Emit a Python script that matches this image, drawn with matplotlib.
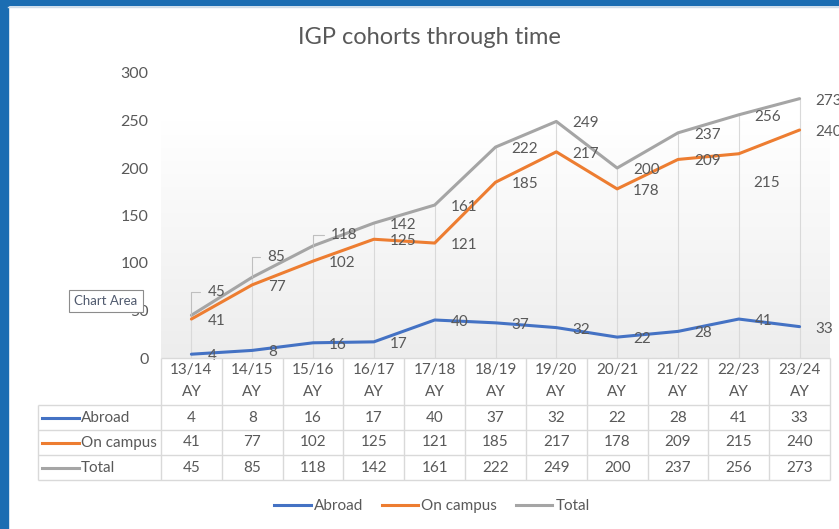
import numpy as np
import matplotlib
matplotlib.use("Agg")
import matplotlib.pyplot as plt
from matplotlib.colors import LinearSegmentedColormap
from matplotlib.lines import Line2D
from matplotlib.patches import Rectangle

# data
years = ["13/14", "14/15", "15/16", "16/17", "17/18", "18/19",
         "19/20", "20/21", "21/22", "22/23", "23/24"]
abroad = [4, 8, 16, 17, 40, 37, 32, 22, 28, 41, 33]
on_campus = [41, 77, 102, 125, 121, 185, 217, 178, 209, 215, 240]
total = [45, 85, 118, 142, 161, 222, 249, 200, 237, 256, 273]
series_names = ["Abroad", "On campus", "Total"]

colors = ['#4472C4', '#ED7D31', '#A5A5A5']
TXT = '#595959'
GRID = '#D9D9D9'
plt.rcParams['font.family'] = ['Lato', 'DejaVu Sans']

W, H = 839, 529
def fx(px):
    return px / W
def fy(py):
    return 1 - py / H

# label tweaks: (dx px, dy px down, leader line)
label_pos = {
    ("Total", 0): (16, -23, True),
    ("Total", 1): (15, -20, True),
    ("Total", 2): (18, -11, True),
    ("On campus", 9): (15, 29, False),
}

fig = plt.figure(figsize=(W / 100, H / 100), dpi=100)
fig.patch.set_facecolor('white')

# blue window frame
fig.patches.append(Rectangle((0, 0), fx(8), 1, transform=fig.transFigure,
                             color='#1B6DB2', zorder=0))
fig.patches.append(Rectangle((0, fy(5)), 1, 5 / H, transform=fig.transFigure,
                             color='#1B6DB2', zorder=0))
fig.add_artist(Line2D([fx(8), 1], [fy(6.5), fy(6.5)], color='#D0DCE8', lw=1))

ax_l, ax_r, ax_t, ax_b = 161, 830, 73, 358
ax = fig.add_axes([fx(ax_l), fy(ax_b), fx(ax_r) - fx(ax_l), fy(ax_t) - fy(ax_b)])
x = np.arange(len(years))
ax.set_xlim(-0.5, len(years) - 0.5)
ax.set_ylim(0, 300)

# plot area gradient
cmap = LinearSegmentedColormap.from_list('pa', [(0, 'white'), (0.17, 'white'), (1, '#EDEDED')])
ax.imshow(np.linspace(0, 1, 256).reshape(-1, 1), cmap=cmap, aspect='auto',
          extent=[-0.5, len(years) - 0.5, 0, 300], zorder=0)

# drop lines
ax.vlines(x, 0, total, color=GRID, lw=0.8, zorder=1)

for name, vals, c in zip(series_names, [abroad, on_campus, total], colors):
    ax.plot(x, vals, color=c, lw=2.2, solid_capstyle='round', zorder=3)
    for i, v in enumerate(vals):
        dx, dy, leader = label_pos.get((name, i), (16, 2, False))
        props = None
        if leader:
            props = dict(arrowstyle='-', color='#BFBFBF', lw=0.8, relpos=(0, 0.5),
                         connectionstyle='angle,angleA=0,angleB=90,rad=0',
                         shrinkA=3, shrinkB=0)
        ax.annotate(str(v), xy=(i, v), xytext=(dx, -dy), textcoords='offset pixels',
                    ha='left', va='center', fontsize=11, color=TXT, zorder=4,
                    arrowprops=props, annotation_clip=False)

ax.set_yticks(range(0, 301, 50))
ax.set_xticks([])
ax.tick_params(axis='y', length=0, labelsize=11.5, labelcolor=TXT, pad=9)
for s in ax.spines.values():
    s.set_visible(False)

# data table under the plot
tab_b = 480
tax = fig.add_axes([fx(ax_l), fy(tab_b), fx(ax_r) - fx(ax_l), fy(ax_b) - fy(tab_b)])
tax.set_xlim(ax.get_xlim())
tax.set_ylim(tab_b - ax_b, 0)
tax.axis('off')
col_px = (ax_r - ax_l) / len(years)
def tx(px):
    return -0.5 + (px - ax_l) / col_px

head_h, row_h = 47, 25
row_y = [head_h + row_h * k for k in range(4)]
left_edge = tx(38)
kw = dict(color=GRID, lw=1, clip_on=False)
tax.hlines(0, -0.5, len(years) - 0.5, **kw)
for yy in row_y:
    tax.hlines(yy, left_edge, len(years) - 0.5, **kw)
tax.vlines(left_edge, head_h, row_y[-1], **kw)
for b in np.arange(len(years) + 1) - 0.5:
    tax.vlines(b, 0, row_y[-1], **kw)

for i, yr in enumerate(years):
    tax.text(i, 12, yr, ha='center', va='center', fontsize=11, color=TXT)
    tax.text(i, 34, "AY", ha='center', va='center', fontsize=11, color=TXT)

for k, (name, vals, c) in enumerate(zip(series_names, [abroad, on_campus, total], colors)):
    yc = row_y[k] + row_h / 2
    tax.plot([tx(42), tx(79)], [yc, yc], color=c, lw=2.2, clip_on=False)
    tax.text(tx(81), yc, name, ha='left', va='center', fontsize=11, color=TXT, clip_on=False)
    for i, v in enumerate(vals):
        tax.text(i, yc, str(v), ha='center', va='center', fontsize=11, color=TXT)

# title and legend
fig.text(fx(429), fy(37), "IGP cohorts through time", ha='center', va='center',
         fontsize=17, color=TXT)
handles = [Line2D([], [], color=c, lw=2.2) for c in colors]
leg = fig.legend(handles, series_names, loc='center', bbox_to_anchor=(fx(432), fy(506)),
                 ncol=3, frameon=False, fontsize=11, handlelength=2.4,
                 handletextpad=0.2, columnspacing=1.2)
for t in leg.get_texts():
    t.set_color(TXT)

# "Chart Area" hover tip captured in the screenshot
fig.text(fx(106), fy(301), "Chart Area", ha='center', va='center', fontsize=9.5,
         color='#505A6E', bbox=dict(boxstyle='square,pad=0.4', fc='white', ec='#8C8C8C', lw=0.8))

fig.savefig('out.png', dpi=100)
